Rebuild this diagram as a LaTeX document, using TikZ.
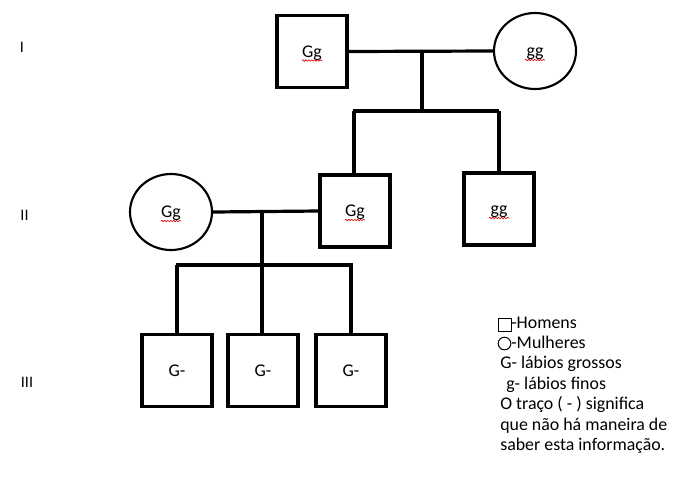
\documentclass[tikz,border=0pt]{standalone}
\usepackage{fontspec}
\setmainfont{Carlito}
\usetikzlibrary{decorations.pathmorphing,shapes.geometric}
\begin{document}
\begin{tikzpicture}[x=0.75pt,y=-0.75pt,
  txt/.style={font=\fontsize{13.4}{16}\selectfont},
  lbl/.style={font=\fontsize{13.4}{16}\selectfont,text height=8.6pt,text depth=0pt},
  male/.style={draw,rectangle,line width=2.4pt,minimum width=52.5pt,minimum height=54pt,inner sep=0pt,lbl},
  female/.style={draw,ellipse,line width=1.6pt,minimum width=61.5pt,minimum height=57pt,inner sep=0pt,lbl},
  link/.style={line width=2.4pt},
  squig/.style={red!85!black,line width=0.45pt,decorate,decoration={snake,amplitude=0.55pt,segment length=2.2pt}},
  leg/.style={txt,anchor=base west,inner sep=0pt},
  roman/.style={font=\fontsize{12}{14}\selectfont,inner sep=0pt}
]
\useasboundingbox (0,0) rectangle (681,476);
\fill[white] (0,0) rectangle (681,476);
% generation labels
\node[roman] (rI) at (22,47) {I};
\node[roman] (rII) at (24.5,215) {II};
\node[roman] (rIII) at (27,382) {III};
% generation I
\node[male] (A) at (312,51.5) {Gg};
\node[female] (B) at (535,51) {gg};
% generation II
\node[female] (E) at (171,212) {Gg};
\node[male] (C) at (355,211) {Gg};
\node[male] (D) at (499,209) {gg};
% generation III
\node[male] (F1) at (177,370.5) {G-};
\node[male] (F2) at (263,370.5) {G-};
\node[male] (F3) at (351,370.5) {G-};
% spellcheck squiggles
\foreach \n in {A,B,C,D,E}{
  \draw[squig] ([shift={(-10,9)}]\n.center) -- ([shift={(10,9)}]\n.center);
}
% connectors I
\coordinate (m1) at (422,51);
\coordinate (s1) at (422,111);
\draw[link] (A.east) -- (B.west);
\draw[link] (m1) -- (s1);
\draw[link] ([xshift=-1.5pt]C.north |- s1) -- (D.north |- s1);
\draw[link] ([xshift=-0.75pt]C.north |- s1) -- ([xshift=-0.75pt]C.north);
\draw[link] (D.north |- s1) -- (D.north);
% connectors II
\coordinate (m2) at (262,212);
\coordinate (s2) at (262,265);
\draw[link] (E.east) -- (C.west);
\draw[link] (m2) -- (s2);
\draw[link] ([xshift=-0.75pt]F1.north |- s2) -- ([xshift=1.5pt]F3.north |- s2);
\draw[link] (F1.north |- s2) -- (F1.north);
\draw[link] ([xshift=-0.75pt]F2.north |- s2) -- ([xshift=-0.75pt]F2.north);
\draw[link] (F3.north |- s2) -- (F3.north);
% legend
\node[draw,rectangle,line width=0.75pt,minimum size=9.75pt,inner sep=0pt] (ls) at (504.5,324.5) {};
\node[leg] (l1) at (511,328) {-Homens};
\node[draw,circle,line width=0.75pt,minimum size=9.5pt,inner sep=0pt] (lc) at (504.5,343.5) {};
\node[leg] (l2) at (511,348) {-Mulheres};
\node[leg] (l3) at (500,368.5) {G- lábios grossos};
\node[leg] (l4) at (506,389) {g- lábios finos};
\node[leg] (l5) at (500,409.5) {O traço ( - ) significa};
\node[leg] (l6) at (500,430) {que não há maneira de};
\node[leg] (l7) at (500,450.5) {saber esta informação.};
\end{tikzpicture}
\end{document}
